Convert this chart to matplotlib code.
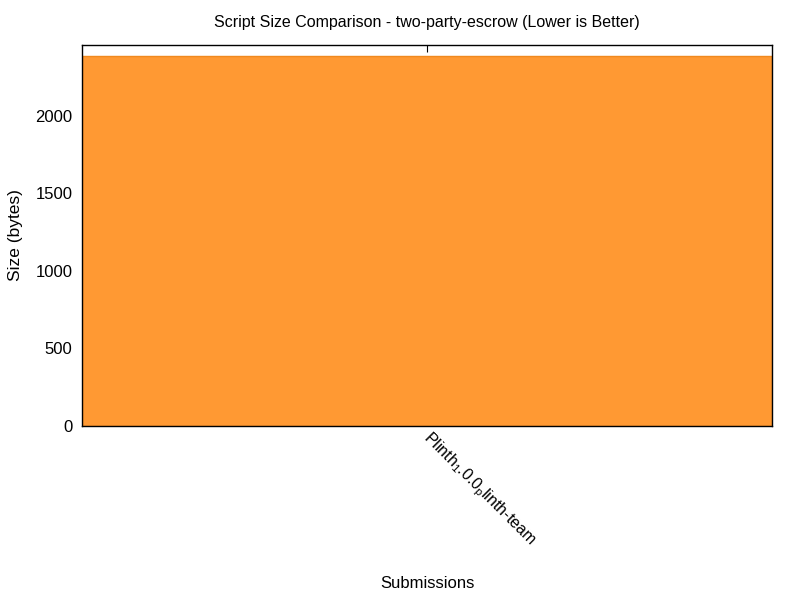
import matplotlib.pyplot as plt
import matplotlib.transforms as mtransforms

plt.rcParams['font.family'] = ['Liberation Sans', 'DejaVu Sans']
plt.rcParams['mathtext.fontset'] = 'custom'
plt.rcParams['mathtext.rm'] = 'Liberation Sans'
plt.rcParams['mathtext.it'] = 'Liberation Sans'

# data
submissions = [r'Plinth$_\mathrm{1}$.0.0$_\mathrm{p}$linth-team']
sizes = [2384]

fig = plt.figure(figsize=(8, 6), dpi=100)
ax = fig.add_axes([0.1025, 0.29, 0.8625, 0.635])

ax.bar(range(len(sizes)), sizes, width=1.0, color='#FF9933',
       edgecolor='#F0891E', linewidth=1.0)
ax.set_axisbelow(True)
ax.set_xlim(-0.5, len(sizes) - 0.5)
ax.set_ylim(0, 2455)

ax.set_yticks([0, 500, 1000, 1500, 2000])
ax.tick_params(axis='y', length=0, labelsize=12, pad=7)
ax.set_xticks(range(len(sizes)))
ax.set_xticklabels(submissions, rotation=-45, ha='left', va='top',
                   rotation_mode='anchor', fontsize=11.5)
ax.tick_params(axis='x', direction='in', length=5, top=True, pad=3)
shift = mtransforms.ScaledTranslation(6/100, 2/100, fig.dpi_scale_trans)
for lbl in ax.get_xticklabels():
    lbl.set_transform(lbl.get_transform() + shift)
for s in ax.spines.values():
    s.set_linewidth(1.0)
    s.set_zorder(3)

ax.set_title('Script Size Comparison - two-party-escrow (Lower is Better)',
             fontsize=11.5, pad=13)
ax.set_ylabel('Size (bytes)', fontsize=12.5, labelpad=9)
fig.text(0.534, 0.02, 'Submissions', ha='center', fontsize=12)

fig.savefig('out.png')
